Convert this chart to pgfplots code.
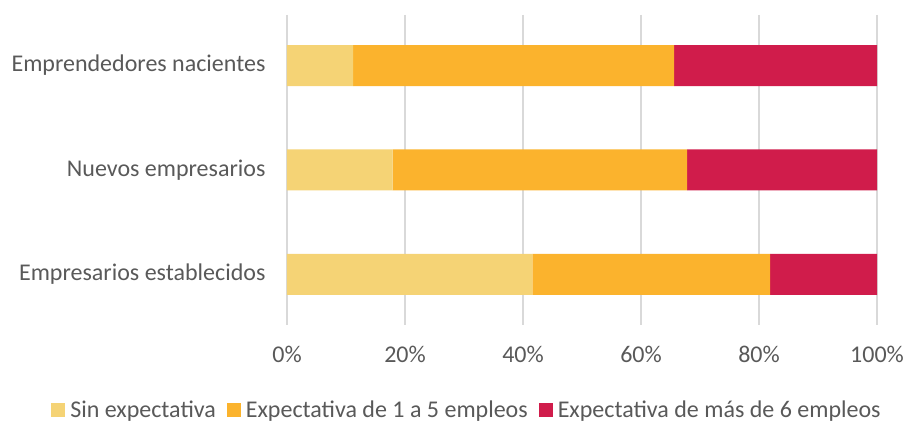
\documentclass[border=0pt]{standalone}
\usepackage{pgfplots}
\pgfplotsset{compat=1.18}
\usepackage{fontspec}
\setmainfont{Carlito}
\definecolor{cLight}{HTML}{F5D375}
\definecolor{cOrange}{HTML}{FBB32D}
\definecolor{cRed}{HTML}{D01C4B}
\definecolor{cText}{HTML}{595959}
\definecolor{cGrid}{HTML}{D9D9D9}
\begin{document}
\begin{tikzpicture}
\begin{axis}[
  scale only axis,
  width=590pt, height=310pt,
  xbar stacked,
  bar width=41pt,
  xmin=0, xmax=100,
  ymin=-0.484, ymax=2.484,
  y dir=reverse,
  ytick={0,1,2},
  yticklabels={Emprendedores nacientes,Nuevos empresarios,Empresarios establecidos},
  xtick={0,20,40,60,80,100},
  xticklabel={\pgfmathprintnumber{\tick}\%},
  /pgf/number format/assume math mode=true,
  xmajorgrids,
  grid style={cGrid, line width=1.2pt},
  axis line style={draw=none},
  major tick length=0pt,
  tick label style={font=\fontsize{24}{28}\selectfont, text=cText},
  xticklabel style={yshift=-18pt},
  yticklabel style={xshift=-18pt},
  legend style={at={(0.305,-0.274)}, anchor=center, draw=none, legend columns=-1,
    font=\fontsize{24}{28}\selectfont, text=cText,
    /tikz/every odd column/.append style={column sep=3pt},
    /tikz/every even column/.append style={column sep=9pt}},
  legend image code/.code={\fill[#1] (0pt,-7pt) rectangle (14pt,7pt);},
]
\addplot[fill=cLight, draw=none] coordinates {(11.2,0) (17.9,1) (41.6,2)};
\addplot[fill=cOrange, draw=none] coordinates {(54.4,0) (49.9,1) (40.3,2)};
\addplot[fill=cRed, draw=none] coordinates {(34.4,0) (32.2,1) (18.1,2)};
\legend{Sin expectativa,Expectativa de 1 a 5 empleos,Expectativa de más de 6 empleos}
\end{axis}
\pgfresetboundingbox
\path ([xshift=-287pt,yshift=-97pt]current axis.south west) rectangle ([xshift=30pt,yshift=15pt]current axis.north east);
\end{tikzpicture}
\end{document}
